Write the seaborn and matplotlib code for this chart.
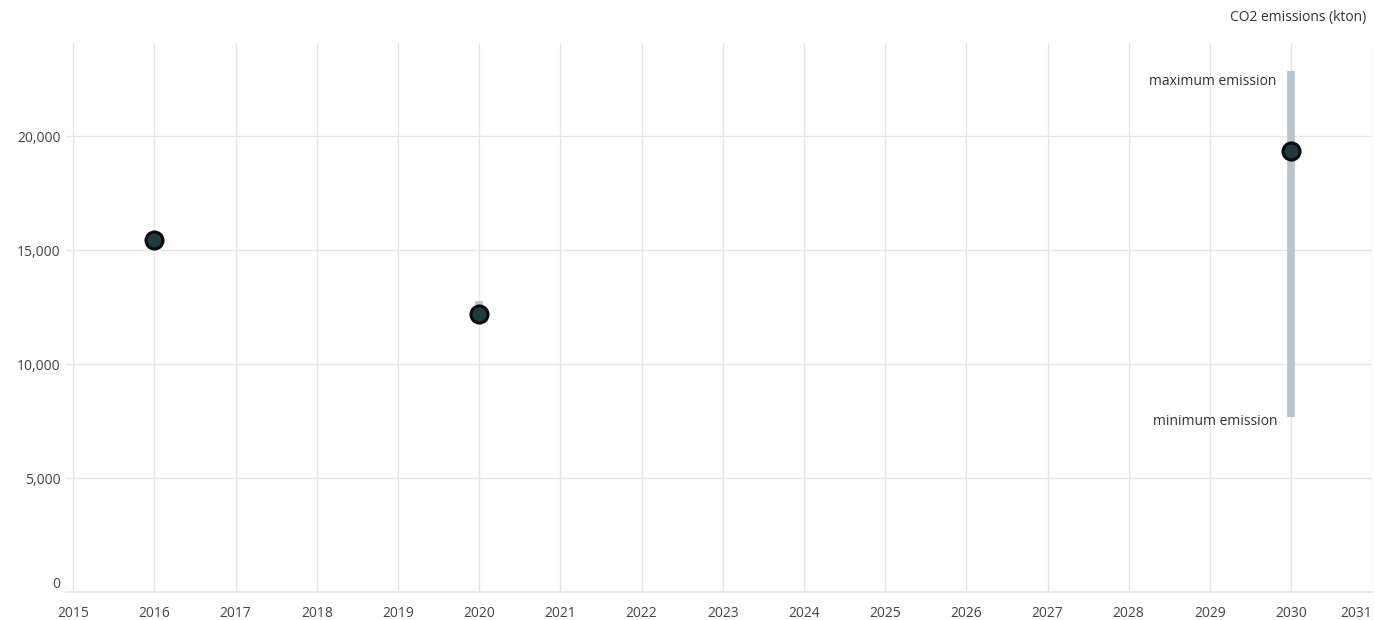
#! /usr/bin/env python3
'''
CO2 emissions per year with projected min/max range for 2030
'''

# imports
import matplotlib
matplotlib.use('Agg')
import matplotlib.pyplot as plt
import pandas as pd
import seaborn as sns

# data
years = [2016, 2020, 2030]
emissions = [15440, 12190, 19340]
range_years = [2020, 2030]
range_min = [12150, 7680]
range_max = [12760, 22880]
x_ticks = list(range(2015, 2032))
y_ticks = [0, 5000, 10000, 15000, 20000]

# style
sns.set_style('whitegrid')
plt.rcParams['font.family'] = ['Open Sans', 'DejaVu Sans']
GRID = '#e6e6e6'
TEXT = '#444444'

fig = plt.figure(figsize=(13.75, 6.2), dpi=100)
ax = fig.add_axes([0.048, 0.045, 0.95, 0.886])

# range bars
ax.vlines(range_years, range_min, range_max, colors='#b8c3d3', linewidth=5.5, zorder=2)

# points
df = pd.DataFrame({'year': years, 'emissions': emissions})
sns.scatterplot(data=df, x='year', y='emissions', ax=ax, s=150, color='#1f3b3d',
                edgecolor='#080c0d', linewidth=2.2, zorder=3, legend=False)

# axes
ax.set_xlim(2014.91, 2030.96)
ax.set_ylim(0, 24100)
ax.set_xticks(x_ticks)
ax.set_xticklabels([str(x) for x in x_ticks])
ax.set_yticks(y_ticks)
ax.set_yticklabels(['{:,}'.format(v) for v in y_ticks])
ax.set_xlabel('')
ax.set_ylabel('')
ax.grid(True, color=GRID, linewidth=1)
for side in ['top', 'right', 'left']:
    ax.spines[side].set_visible(False)
ax.spines['bottom'].set_color(GRID)
ax.spines['bottom'].set_linewidth(1.2)
ax.tick_params(axis='x', colors=GRID, length=5, width=1, labelcolor=TEXT, labelsize=10, pad=5)
ax.tick_params(axis='y', length=0, labelcolor=TEXT, labelsize=10, pad=4)
for lbl in ax.get_xticklabels():
    if lbl.get_text() == '2031':
        lbl.set_horizontalalignment('right')
for lbl in ax.get_yticklabels():
    if lbl.get_text() == '0':
        lbl.set_verticalalignment('bottom')
ax.set_axisbelow(True)

# annotations
ax.text(2029.82, range_max[-1] - 500, 'maximum emission', ha='right', va='center', fontsize=10, color='#333333')
ax.text(2029.83, range_min[-1] - 200, 'minimum emission', ha='right', va='center', fontsize=10, color='#333333')
fig.text(0.994, 0.972, 'CO2 emissions (kton)', ha='right', va='center', fontsize=10, color='#333333')

fig.savefig('out.png', dpi=100)
